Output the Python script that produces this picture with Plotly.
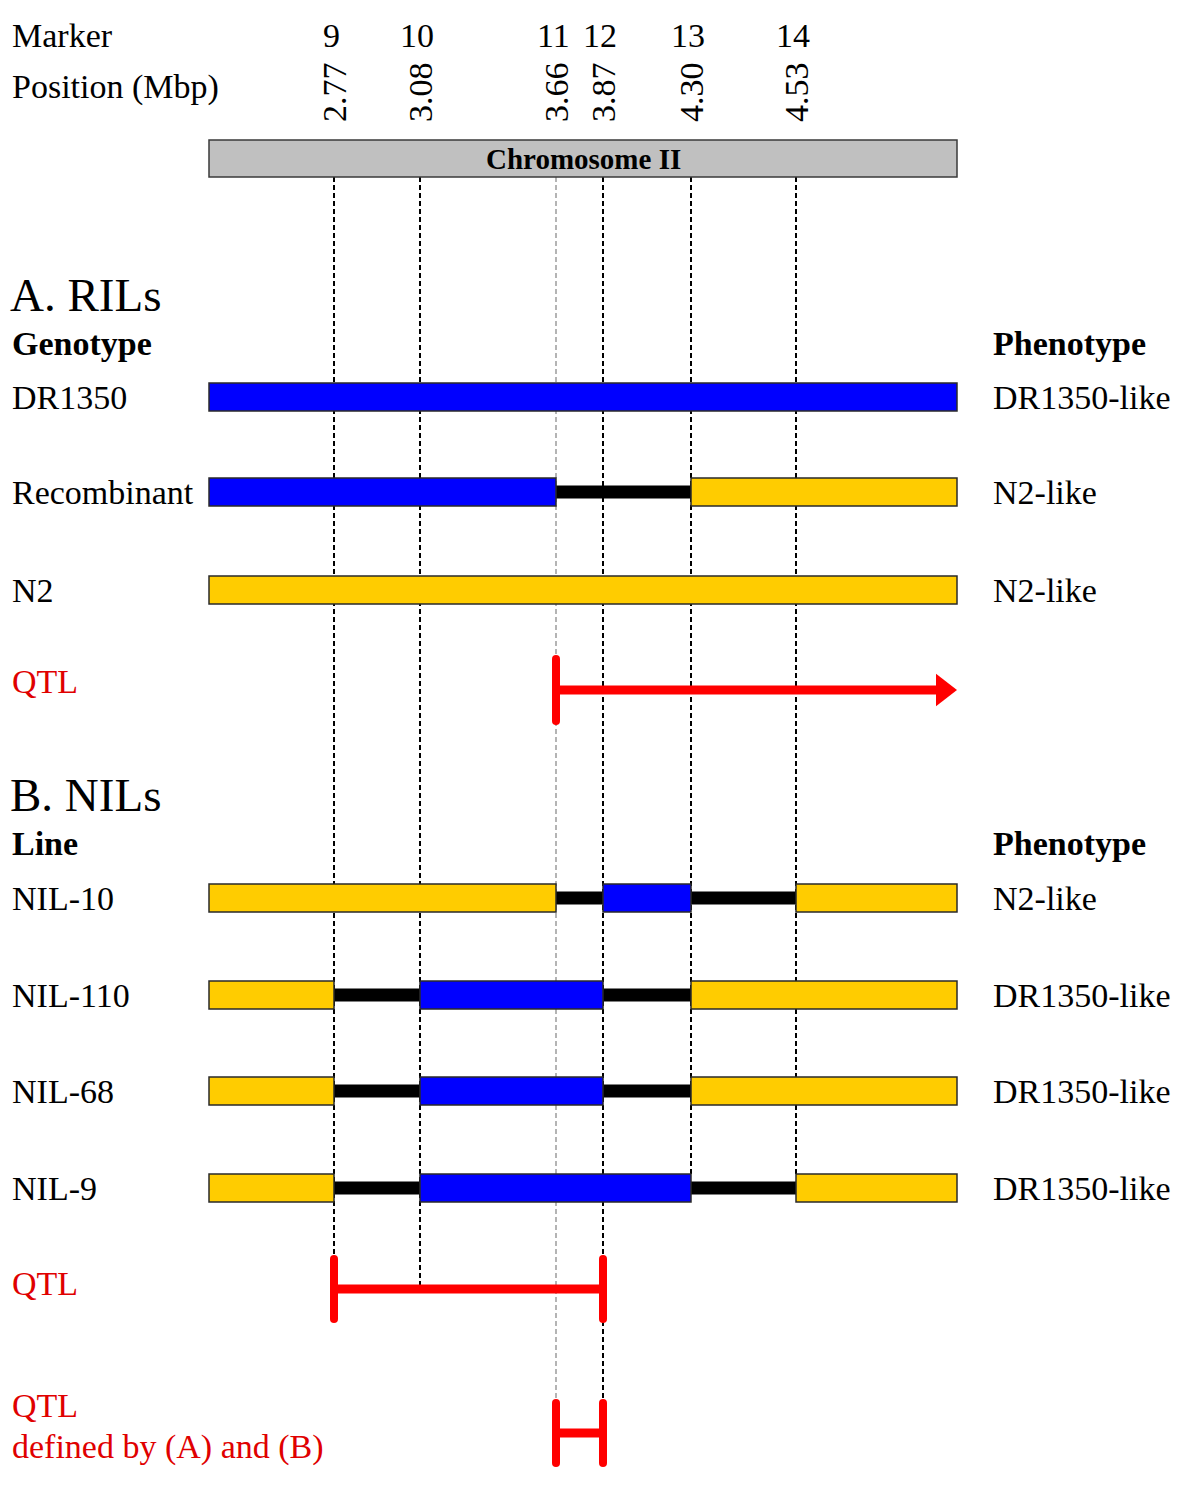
import plotly.graph_objects as go

# markers along chromosome II
MARKERS = ["9", "10", "11", "12", "13", "14"]
POSITIONS_MBP = ["2.77", "3.08", "3.66", "3.87", "4.30", "4.53"]

# genotype segments: (from, to, allele)  D = DR1350, N = N2, x = recombination interval
RIL_LINES = ["DR1350", "Recombinant", "N2"]
RIL_PHENOTYPES = ["DR1350-like", "N2-like", "N2-like"]
RIL_GENOTYPES = [
    [("start", "end", "D")],
    [("start", "11", "D"), ("11", "13", "x"), ("13", "end", "N")],
    [("start", "end", "N")],
]

NIL_LINES = ["NIL-10", "NIL-110", "NIL-68", "NIL-9"]
NIL_PHENOTYPES = ["N2-like", "DR1350-like", "DR1350-like", "DR1350-like"]
NIL_GENOTYPES = [
    [("start", "11", "N"), ("11", "12", "x"), ("12", "13", "D"), ("13", "14", "x"), ("14", "end", "N")],
    [("start", "9", "N"), ("9", "10", "x"), ("10", "12", "D"), ("12", "13", "x"), ("13", "end", "N")],
    [("start", "9", "N"), ("9", "10", "x"), ("10", "12", "D"), ("12", "13", "x"), ("13", "end", "N")],
    [("start", "9", "N"), ("9", "10", "x"), ("10", "13", "D"), ("13", "14", "x"), ("14", "end", "N")],
]

QTL_RIL = ("11", "end")
QTL_NIL = ("9", "12")
QTL_BOTH = ("11", "12")

# ---- schematic layout (pixel-like coordinates) ----
W, H = 1200, 1494
PAGE_OFFSET = 8  # default body margin of the html page
MARKER_X = dict(zip(MARKERS, [334, 420, 556, 603, 691, 796]))
MARKER_X["start"] = 209
MARKER_X["end"] = 957
DASH_BOTTOM = dict(zip(MARKERS, [1259, 1289, 1404, 1404, 1174, 1174]))
RIL_Y = [397, 492, 590]
NIL_Y = [898, 995, 1091, 1188]
BAR_H = 28
LINK_H = 13
COLORS = {"D": "#0000ff", "N": "#ffcc00"}
RED = "#ff0000"
TXT_RED = "#e00000"
FONT = "Liberation Serif, Times New Roman, serif"

fig = go.Figure()
shapes = []
annotations = []


def text(x, y, s, size=34, color="black", bold=False, **kw):
    annotations.append(dict(
        x=x, y=y, xref="x", yref="y", text=f"<b>{s}</b>" if bold else s,
        showarrow=False, xanchor=kw.pop("xanchor", "left"), yanchor="middle",
        font=dict(family=FONT, size=size, color=color), **kw))


# dashed marker lines (behind everything)
for m in MARKERS:
    shapes.append(dict(
        type="line", layer="below", xref="x", yref="y",
        x0=MARKER_X[m], x1=MARKER_X[m], y0=177, y1=DASH_BOTTOM[m],
        line=dict(color="#b4b4b4" if m == "11" else "black", width=2, dash="5px,3px")))

# chromosome bar
shapes.append(dict(type="rect", layer="below", xref="x", yref="y",
                   x0=MARKER_X["start"], x1=MARKER_X["end"], y0=140, y1=177,
                   fillcolor="#c0c0c0", line=dict(color="#3a3a3a", width=1.5)))
text((MARKER_X["start"] + MARKER_X["end"]) / 2, 159, "Chromosome II", size=29, bold=True, xanchor="center")


def draw_genotype(segments, yc):
    # connectors first, then the coloured blocks on top
    for a, b, allele in segments:
        if allele == "x":
            shapes.append(dict(type="rect", layer="below", xref="x", yref="y",
                               x0=MARKER_X[a], x1=MARKER_X[b],
                               y0=yc - LINK_H / 2, y1=yc + LINK_H / 2,
                               fillcolor="black", line=dict(width=0)))
    for a, b, allele in segments:
        if allele != "x":
            shapes.append(dict(type="rect", layer="below", xref="x", yref="y",
                               x0=MARKER_X[a], x1=MARKER_X[b],
                               y0=yc - BAR_H / 2, y1=yc + BAR_H / 2,
                               fillcolor=COLORS[allele], line=dict(color="#2a2a2a", width=1.5)))


def draw_qtl(span, yc, half=30, arrow=False):
    x0, x1 = MARKER_X[span[0]], MARKER_X[span[1]]
    xs = [x0, x1 - 20] if arrow else [x0, x1]
    fig.add_trace(go.Scatter(x=xs, y=[yc, yc], mode="lines",
                             line=dict(color=RED, width=9), hoverinfo="skip"))
    ends = [x0] if arrow else [x0, x1]
    for xe in ends:
        fig.add_trace(go.Scatter(x=[xe, xe], y=[yc - half, yc + half], mode="lines+markers",
                                 line=dict(color=RED, width=8),
                                 marker=dict(color=RED, size=8), hoverinfo="skip"))
    if arrow:
        fig.add_trace(go.Scatter(x=[x1 - 14], y=[yc], mode="markers",
                                 marker=dict(symbol="triangle-right", size=28, color=RED),
                                 hoverinfo="skip"))


# header labels
text(10, 35, "Marker")
text(10, 87, "Position (Mbp)")
for m, p in zip(MARKERS, POSITIONS_MBP):
    text(MARKER_X[m] - 3, 35, m, xanchor="center")
    text(MARKER_X[m], 92, p, xanchor="center", textangle=-90)

# A. RILs
text(8, 295, "A. RILs", size=47)
text(10, 343, "Genotype", bold=True)
text(991, 343, "Phenotype", bold=True)
for name, pheno, geno, yc in zip(RIL_LINES, RIL_PHENOTYPES, RIL_GENOTYPES, RIL_Y):
    text(10, yc, name)
    text(991, yc, pheno)
    draw_genotype(geno, yc)
text(10, 681, "QTL", color=TXT_RED)
draw_qtl(QTL_RIL, 690, half=31, arrow=True)

# B. NILs
text(8, 795, "B. NILs", size=47)
text(10, 843, "Line", bold=True)
text(991, 843, "Phenotype", bold=True)
for name, pheno, geno, yc in zip(NIL_LINES, NIL_PHENOTYPES, NIL_GENOTYPES, NIL_Y):
    text(10, yc, name)
    text(991, yc, pheno)
    draw_genotype(geno, yc)
text(10, 1283, "QTL", color=TXT_RED)
draw_qtl(QTL_NIL, 1289, half=30)

text(10, 1405, "QTL", color=TXT_RED)
text(10, 1447, "defined by (A) and (B)", color=TXT_RED)
draw_qtl(QTL_BOTH, 1433, half=30)

fig.update_layout(
    width=W, height=H,
    margin=dict(l=0, r=0, t=0, b=0),
    paper_bgcolor="white", plot_bgcolor="white",
    showlegend=False,
    shapes=shapes, annotations=annotations,
    xaxis=dict(range=[PAGE_OFFSET, W + PAGE_OFFSET], visible=False, fixedrange=True),
    yaxis=dict(range=[H + PAGE_OFFSET, PAGE_OFFSET], visible=False, fixedrange=True),
)

fig.write_html("out.html")
